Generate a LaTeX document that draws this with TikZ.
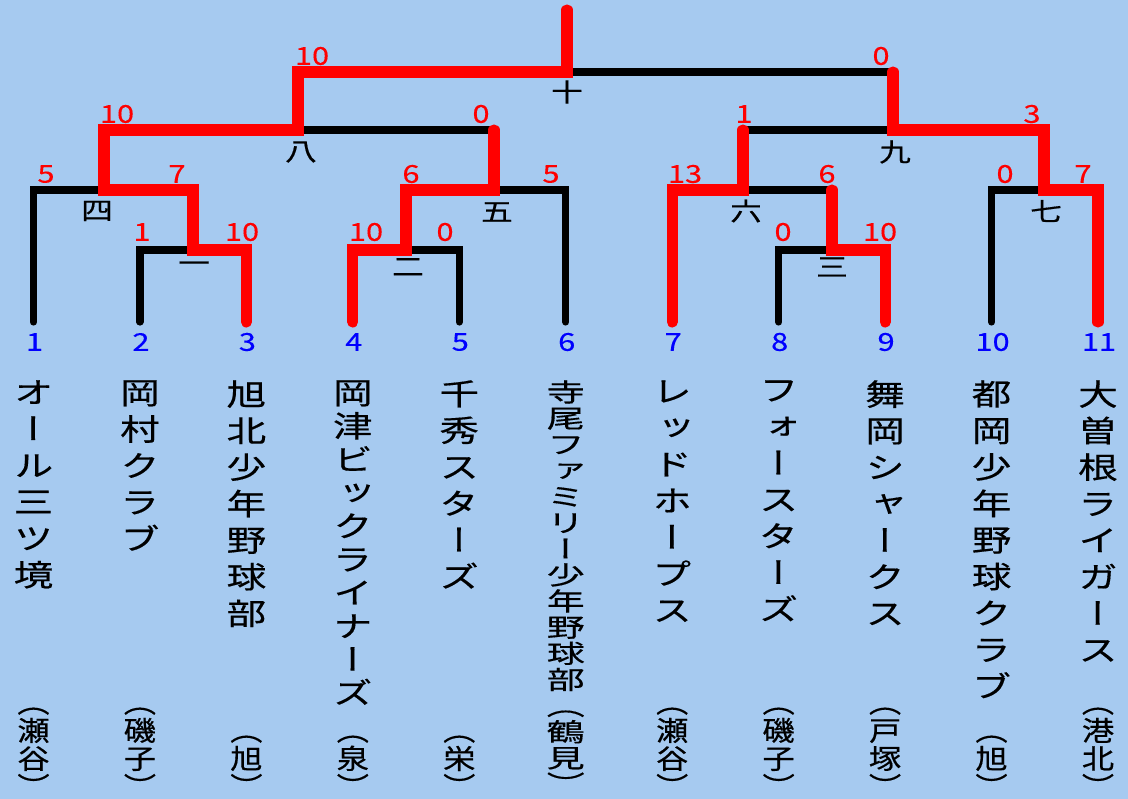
\documentclass[tikz,border=0pt]{standalone}
\usepackage{fontspec}
\usepackage{graphicx}
\usetikzlibrary{calc}
\newfontfamily\jplabel[FakeStretch=1.25,FakeBold=0.4]{Noto Sans CJK JP}
\newfontfamily\jpnum[FakeStretch=1.25,FakeBold=0.3]{Noto Sans CJK JP}
\newfontfamily\jpname[RawFeature={+vert},FakeStretch=1.32,FakeBold=0.4]{Noto Sans CJK JP}
\newfontfamily\jpdist[RawFeature={+vert},FakeStretch=1.18,FakeBold=0.4]{Noto Sans CJK JP}
\newfontfamily\jptera[RawFeature={+vert},FakeStretch=1.5,FakeBold=0.4]{Noto Sans CJK JP}
\definecolor{bg}{HTML}{A6CAF0}
\definecolor{win}{HTML}{FF0000}
\definecolor{seed}{HTML}{0000FF}
\def\vstackend{}
\def\vstackloop#1{\ifx#1\vstackend\else\hbox to 1em{\hss#1\hss}\expandafter\vstackloop\fi}
\newcommand\vstack[2]{\vbox{\baselineskip=#1\lineskiplimit=-\maxdimen\lineskip=0pt\vstackloop#2\vstackend}}
\tikzset{
  bk/.style={draw=black, line width=5.4pt, line cap=round, line join=miter},
  rd/.style={draw=win, line width=8.3pt, line cap=round, line join=miter},
  score/.style={text=win, inner sep=0pt, font=\jpnum\fontsize{18.5pt}{20pt}\selectfont},
  seedno/.style={text=seed, inner sep=0pt, font=\jpnum\fontsize{18.5pt}{20pt}\selectfont},
  roundlbl/.style={text=black, inner sep=0pt, font=\jplabel\fontsize{19pt}{20pt}\selectfont},
  teamname/.style={text=black, inner sep=0pt, anchor=north, font=\jpname\fontsize{22.5pt}{27pt}\selectfont},
  district/.style={text=black, inner sep=0pt, anchor=south, font=\jpdist\fontsize{20.5pt}{21pt}\selectfont},
}
\begin{document}
\begin{tikzpicture}[x=0.75pt,y=-0.75pt]
\fill[bg] (0,0) rectangle (1128,799);
\useasboundingbox (0,0) rectangle (1128,799);
% leaves
\foreach \i/\x in {1/33.5,2/139.95,3/246.4,4/352.85,5/459.3,6/565.75,7/672.2,8/778.65,9/885.1,10/991.55,11/1098}{
  \coordinate (L\i) at (\x,322);
}
% junctions
\coordinate (J1) at (193,250);
\coordinate (J2) at (406,250);
\coordinate (J3) at (832,250);
\coordinate (J4) at (104,190);
\coordinate (J5) at (494,190);
\coordinate (J6) at (743,190);
\coordinate (J7) at (1044,190);
\coordinate (J8) at (298,130);
\coordinate (J9) at (893,130);
\coordinate (J10) at (567,72);
\coordinate (T) at (567,10);
% black bracket
\draw[bk] (L2) |- (J1) -| (L3);
\draw[bk] (L4) |- (J2) -| (L5);
\draw[bk] (L8) |- (J3) -| (L9);
\draw[bk] (L1) |- (J4) -| (J1);
\draw[bk] (J2) |- (J5) -| (L6);
\draw[bk] (L7) |- (J6) -| (J3);
\draw[bk] (L10) |- (J7) -| (L11);
\draw[bk] (J4) |- (J8) -| (J5);
\draw[bk] (J6) |- (J9) -| (J7);
\draw[bk] (J8) |- (J10) -| (J9);
% red winner paths
\draw[rd] (L3) |- (J1) -- (J1|-J4) -- (J4) -- (J4|-J8) -- (J8) -- (J8|-J10) -- (J10) -- (T);
\draw[rd] (L4) |- (J2) -- (J2|-J5) -- (J5) -- (J5|-J8);
\draw[rd] (L9) |- (J3) -- (J3|-J6);
\draw[rd] (L7) |- (J6) -- (J6|-J9);
\draw[rd] (L11) |- (J7) -- (J7|-J9) -- (J9) -- (J9|-J10);
% scores
\node[score] (s10l) at (312,56) {10};
\node[score] (s10r) at (881,56) {0};
\node[score] (s8l) at (117,114) {10};
\node[score] (s8r) at (481,114) {0};
\node[score] (s9l) at (744,114) {1};
\node[score] (s9r) at (1032,114) {3};
\node[score] (s4l) at (46,174) {5};
\node[score] (s4r) at (177,174) {7};
\node[score] (s5l) at (411,174) {6};
\node[score] (s5r) at (551,174) {5};
\node[score] (s6l) at (685,174) {13};
\node[score] (s6r) at (827,174) {6};
\node[score] (s7l) at (1005,174) {0};
\node[score] (s7r) at (1083,174) {7};
\node[score] (s1l) at (142,232) {1};
\node[score] (s1r) at (242,232) {10};
\node[score] (s2l) at (366,232) {10};
\node[score] (s2r) at (445,232) {0};
\node[score] (s3l) at (783,232) {0};
\node[score] (s3r) at (880,232) {10};
% round labels
\node[roundlbl] (r10) at (567,92) {十};
\node[roundlbl] (r8) at (301,152) {八};
\node[roundlbl] (r9) at (895,152) {九};
\node[roundlbl] (r4) at (97,211) {四};
\node[roundlbl] (r5) at (497,212) {五};
\node[roundlbl] (r6) at (746,211) {六};
\node[roundlbl] (r7) at (1046,211) {七};
\node[roundlbl] (r1) at (194,267) {一};
\node[roundlbl] (r2) at (408,267) {二};
\node[roundlbl] (r3) at (832,267) {三};
% seed numbers
\foreach \i in {1,...,11}{
  \node[seedno] (n\i) at ($(L\i)+(1,20)$) {\i};
}
% team names
\node[teamname] (t1) at (L1|-0,380) {\vstack{27.4pt}{オール三ツ境}};
\node[teamname] (t2) at (L2|-0,380) {\vstack{27.4pt}{岡村クラブ}};
\node[teamname] (t3) at (L3|-0,380) {\vstack{27.4pt}{旭北少年野球部}};
\node[teamname] (t4) at (L4|-0,380) {\vstack{25pt}{岡津ビックライナーズ}};
\node[teamname] (t5) at (L5|-0,380) {\vstack{27.4pt}{千秀スターズ}};
\node[teamname, font=\jptera\fontsize{19pt}{19pt}\selectfont] (t6) at (L6|-0,380) {\vstack{19.6pt}{寺尾ファミリー少年野球部（鶴見）}};
\node[teamname] (t7) at (L7|-0,380) {\vstack{27.4pt}{レッドホープス}};
\node[teamname] (t8) at (L8|-0,380) {\vstack{27.4pt}{フォースターズ}};
\node[teamname] (t9) at (L9|-0,380) {\vstack{27.4pt}{舞岡シャークス}};
\node[teamname] (t10) at (L10|-0,380) {\vstack{27.4pt}{都岡少年野球クラブ}};
\node[teamname] (t11) at (L11|-0,380) {\vstack{27.4pt}{大曽根ライガース}};
% districts
\node[district] (d1) at (L1|-0,797) {\vstack{21pt}{（瀬谷）}};
\node[district] (d2) at (L2|-0,797) {\vstack{21pt}{（磯子）}};
\node[district] (d3) at (L3|-0,797) {\vstack{21pt}{（旭）}};
\node[district] (d4) at (L4|-0,797) {\vstack{21pt}{（泉）}};
\node[district] (d5) at (L5|-0,797) {\vstack{21pt}{（栄）}};
\node[district] (d7) at (L7|-0,797) {\vstack{21pt}{（瀬谷）}};
\node[district] (d8) at (L8|-0,797) {\vstack{21pt}{（磯子）}};
\node[district] (d9) at (L9|-0,797) {\vstack{21pt}{（戸塚）}};
\node[district] (d10) at (L10|-0,797) {\vstack{21pt}{（旭）}};
\node[district] (d11) at (L11|-0,797) {\vstack{21pt}{（港北）}};
\end{tikzpicture}
\end{document}
